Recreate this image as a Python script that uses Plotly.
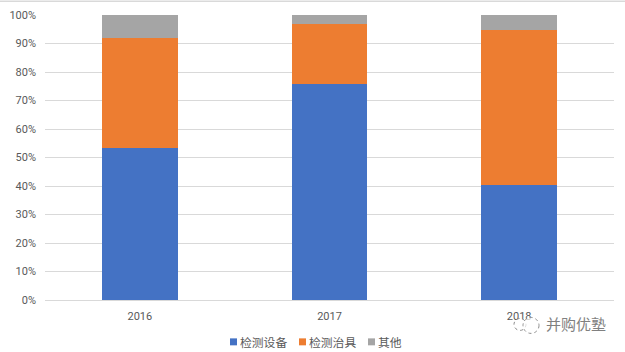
import plotly.graph_objects as go

years = ["2016", "2017", "2018"]
series_names = ["检测设备", "检测治具", "其他"]
equipment = [53.3, 75.7, 40.4]
fixtures = [38.5, 21.0, 54.2]
other = [8.2, 3.3, 5.4]
colors = ["#4472C4", "#ED7D31", "#A5A5A5"]
tick_vals = [0, 10, 20, 30, 40, 50, 60, 70, 80, 90, 100]
tick_text = [f"{v}%" for v in tick_vals]
watermark = "并购优塾"

W, H = 625, 352
L, R, T, B = 45, 11, 14.5, 51.5
pw, ph = W - L - R, H - T - B


def px(x):
    return (x - L) / pw


def py(y):
    return (H - B - y) / ph


fig = go.Figure()
for name, vals, c in zip(series_names, [equipment, fixtures, other], colors):
    fig.add_trace(go.Bar(x=years, y=vals, name=name, marker_color=c, marker_line_width=0, width=0.4))

font = "Noto Sans CJK SC, Noto Sans, sans-serif"
grey = "#595959"

shapes = [dict(type="line", xref="paper", yref="paper", x0=px(0), x1=px(W), y0=py(0.8), y1=py(0.8),
               line=dict(color="#D9D9D9", width=1.5))]
annotations = []
swatch_x = [230, 299, 368]
for name, c, sx in zip(series_names, colors, swatch_x):
    shapes.append(dict(type="rect", xref="paper", yref="paper", x0=px(sx), x1=px(sx + 7),
                       y0=py(346), y1=py(339), fillcolor=c, line_width=0))
    annotations.append(dict(text=name, xref="paper", yref="paper", x=px(sx + 8), y=py(342),
                            xanchor="left", yanchor="middle", showarrow=False,
                            font=dict(size=11.8, color=grey)))

# watermark over the bottom-right corner
for cx, cy, r in [(520, 325, 6), (531, 326, 8)]:
    shapes.append(dict(type="circle", xref="paper", yref="paper",
                       x0=px(cx - r), x1=px(cx + r), y0=py(cy + r), y1=py(cy - r),
                       fillcolor="rgba(255,255,255,0.7)",
                       line=dict(color="#8C8C8C", width=1, dash="dot")))
annotations.append(dict(text=watermark, xref="paper", yref="paper", x=px(576), y=py(324),
                        xanchor="center", yanchor="middle", showarrow=False,
                        font=dict(size=15, color="#808080")))

fig.update_layout(
    barmode="stack",
    width=W, height=H,
    margin=dict(l=L, r=R, t=T, b=B, autoexpand=False),
    paper_bgcolor="white", plot_bgcolor="white",
    font=dict(family=font, size=11, color=grey),
    showlegend=False,
    xaxis=dict(showgrid=False, showline=True, linecolor="#D9D9D9", linewidth=1,
               ticks="", ticklabelstandoff=6, tickfont=dict(family="Roboto", size=11, color=grey)),
    yaxis=dict(range=[0, 100], tickvals=tick_vals, ticktext=tick_text,
               gridcolor="#D9D9D9", gridwidth=1, zeroline=False, showline=False,
               ticks="", ticklabelstandoff=8, tickfont=dict(family="Roboto", size=11, color=grey)),
    shapes=shapes,
    annotations=annotations,
)
fig.write_html("out.html", config={"displayModeBar": False},
               post_script="document.body.style.margin='0';document.body.style.overflow='hidden';")
